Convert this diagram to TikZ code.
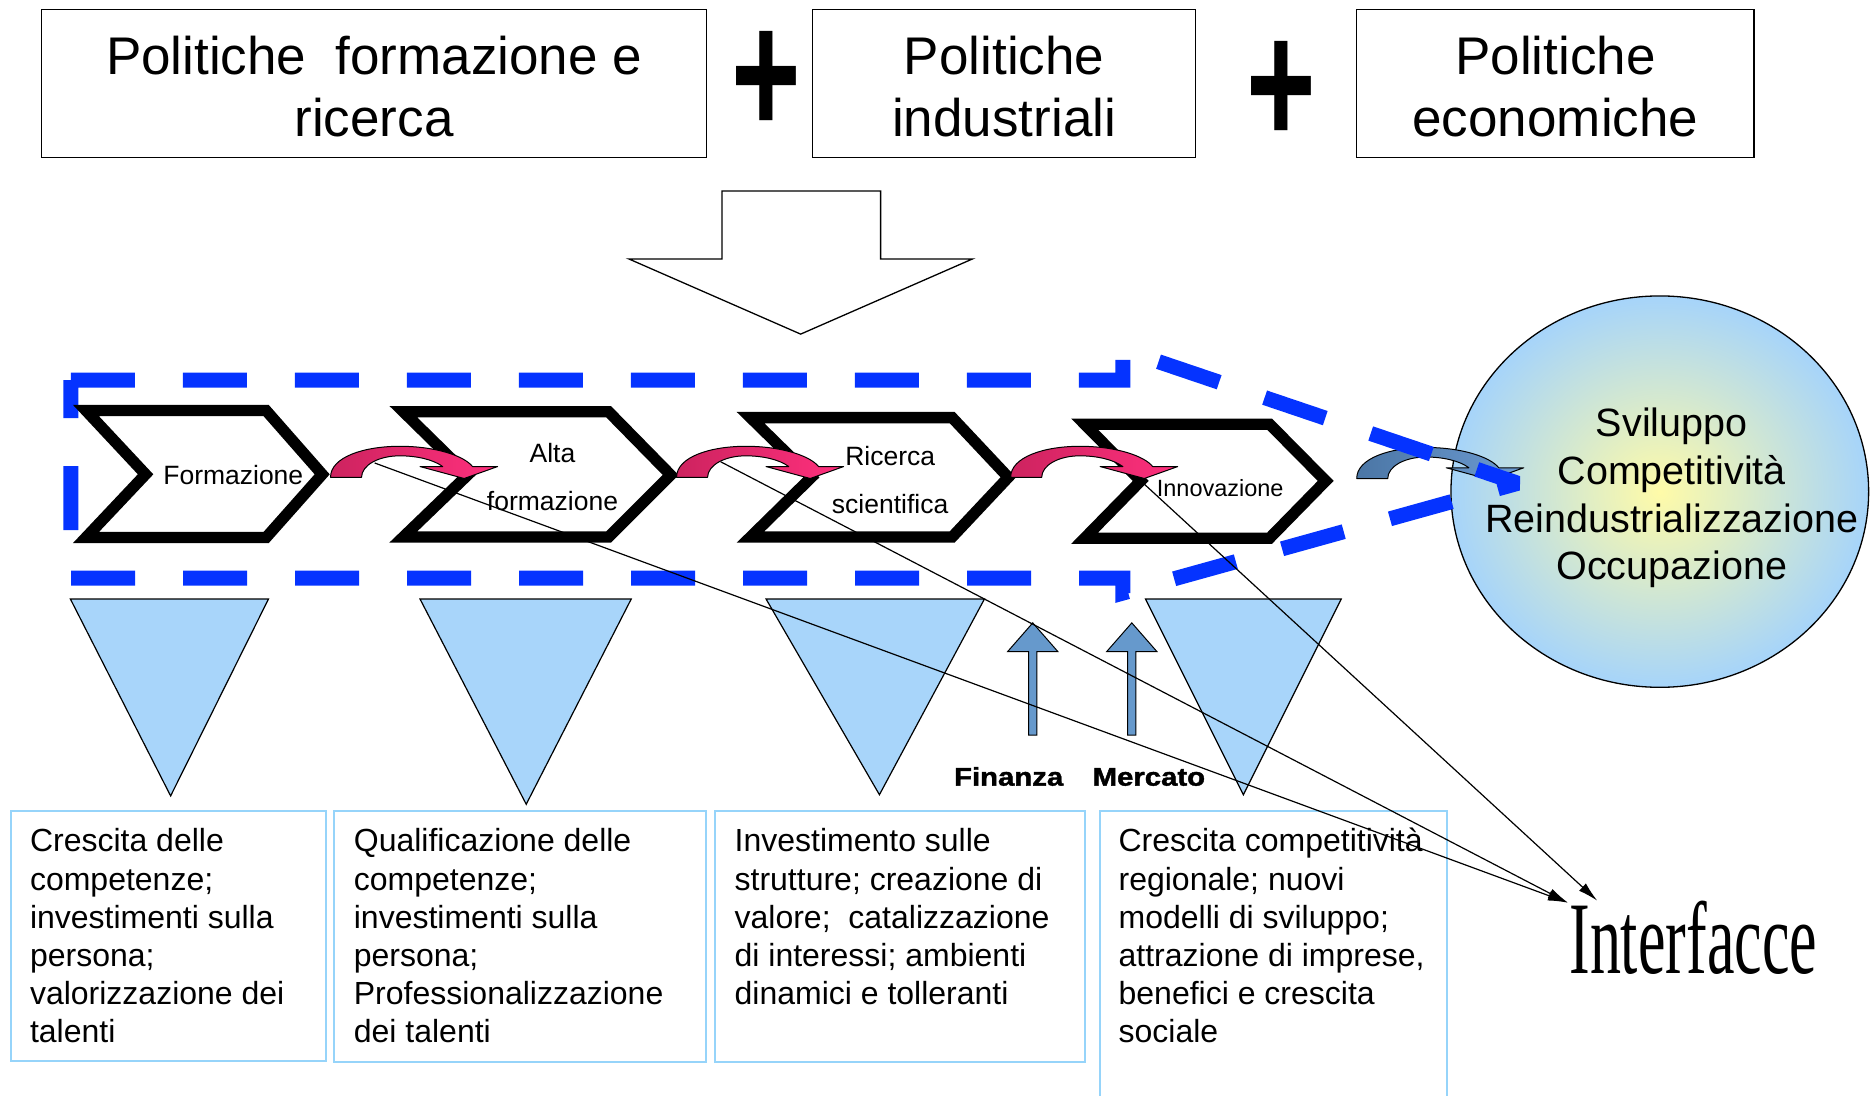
\documentclass[tikz,border=0pt]{standalone}
\usepackage{graphicx}
\usepackage{fontspec}
\setmainfont{Liberation Sans}
\newfontfamily\serifface{Liberation Serif}
\newfontfamily\heavyface{Liberation Sans}[BoldFeatures={FakeBold=1.5}]
\usetikzlibrary{arrows.meta,shapes.geometric,fit}

\definecolor{dashblue}{RGB}{5,51,255}
\definecolor{wedgeblue}{RGB}{168,213,250}
\definecolor{boxblue}{RGB}{150,212,250}
\definecolor{steelup}{RGB}{102,153,204}
\definecolor{pinkdark}{RGB}{205,35,95}
\definecolor{pinklight}{RGB}{255,48,125}
\definecolor{bluedark}{RGB}{75,118,165}
\definecolor{bluelight}{RGB}{108,155,210}
\definecolor{goalyellow}{RGB}{255,251,168}
\definecolor{goalblue}{RGB}{166,212,250}

% curved block arrow between two steps
\newcommand{\bendarrow}[3]{%
  \path[draw=black, line width=1pt, line join=round, left color=#2, right color=#3, shift={(#1)}]
    (0,0) .. controls (0,-17) and (28,-26) .. (58,-26)
    .. controls (88,-26) and (112,-18) .. (119,-9) -- (140,-9) -- (112,1)
    -- (75,-9) -- (94,-9) .. controls (86,-15) and (72,-18) .. (58,-18)
    .. controls (40,-18) and (26,-10) .. (26,0) -- cycle;}

\begin{document}
\begin{tikzpicture}[x=1.1933pt, y=-1.1933pt,
    topbox/.style={draw, line width=1.3pt, inner sep=0pt},
    toptext/.style={inner sep=0pt, align=center, anchor=base, font=\fontsize{53}{62}\selectfont},
    plus/.style={inner sep=4pt, font=\fontsize{157}{157}\selectfont\bfseries},
    chevron/.style={draw, fill=white, line width=11.3pt},
    steptext/.style={inner sep=0pt, align=center, anchor=base, font=\fontsize{26.5}{47.5}\selectfont},
    wedge/.style={draw, line width=1.2pt, fill=wedgeblue},
    infobox/.style={draw=boxblue, line width=2pt, inner sep=0pt},
    infotext/.style={inner sep=0pt, align=left, anchor=base west, font=\fontsize{32}{38.2}\selectfont},
    liftarrow/.style={draw, line width=1pt, fill=steelup},
    tag/.style={inner sep=0pt, anchor=base, font=\heavyface\fontsize{25.5}{30}\selectfont\bfseries},
    link/.style={line width=1.2pt, -{Latex[length=20pt,width=10pt]}}
  ]
  \fill[white] (0,0) rectangle (1568,918);
  \useasboundingbox (0,0) rectangle (1568,918);
  \clip (0,0) rectangle (1568,918);

  % policies
  \node[topbox, fit={(35,8) (592,132)}] (polform) {};
  \node[topbox, fit={(681,8) (1002,132)}] (polind) {};
  \node[topbox, fit={(1137,8) (1470,132)}] (poleco) {};
  \node[toptext] (polformtext) at (313.5,114) {Politiche~ formazione e\\ricerca};
  \node[toptext] (polindtext) at (841.5,114) {Politiche\\industriali};
  \node[toptext] (polecotext) at (1303.5,114) {Politiche\\economiche};
  \node[plus] (plusA) at (642.5,69.4) {\scalebox{0.76}[1.12]{+}};
  \node[plus] (plusB) at (1074,78) {\scalebox{0.76}[1.12]{+}};
  \draw[line width=1.3pt, fill=white] (605,160) -- (738,160) -- (738,217) -- (815,217)
    -- (671,280) -- (527,217) -- (605,217) -- cycle;

  % goal
  \node[draw, line width=1.3pt, ellipse, inner sep=0pt, minimum width=417.7pt, minimum height=391.4pt,
    inner color=goalyellow, outer color=goalblue] (goal) at (1391,412) {};
  \node[inner sep=0pt, align=center, anchor=base, font=\fontsize{39.5}{47.8}\selectfont] (goaltext)
    at (1401,486) {Sviluppo\\Competitività\\Reindustrializzazione\\Occupazione};
  \bendarrow{1137,401}{bluedark}{bluelight}

  % process frame
  \draw[dashblue, line width=15pt, miter limit=2, dash pattern=on 64pt off 48pt]
    (59.5,318.5) -- (941,318.5) -- (941,293) -- (1272,405) -- (941,497) -- (941,484.5)
    -- (59.5,484.5) -- cycle;

  % steps
  \draw[chevron] (72,344) -- (223,344) -- (270,397.5) -- (223,450.5) -- (72,450.5) -- (122,397.5) -- cycle;
  \draw[chevron] (338,345) -- (510,345) -- (562,398) -- (510,450) -- (338,450) -- (392,398) -- cycle;
  \draw[chevron] (629,350) -- (798,350) -- (845,400) -- (798,450) -- (629,450) -- (680,400) -- cycle;
  \draw[chevron] (909,355.5) -- (1064,355.5) -- (1111,403) -- (1064,451) -- (909,451) -- (956,403) -- cycle;
  \node[steptext] (formaz) at (195.5,406) {Formazione};
  \node[steptext] (altaform) at (463,427.4) {Alta\\formazione};
  \node[steptext] (ricerca) at (746,430) {Ricerca\\scientifica};
  \node[steptext, font=\fontsize{23.5}{28}\selectfont] (innov) at (1022.6,415.7) {Innovazione};
  \bendarrow{277,400}{pinkdark}{pinklight}
  \bendarrow{567,400}{pinkdark}{pinklight}
  \bendarrow{847,400}{pinkdark}{pinklight}

  % effects
  \foreach \l/\r/\tx/\ty in {59/225/143/667, 352/529/441/674, 642/825/737/666, 960/1124/1042/666}
    \draw[wedge] (\l,502) -- (\r,502) -- (\tx,\ty) -- cycle;
  \foreach \cx in {865.5,948.5}
    \draw[liftarrow] ({\cx-3.5},616) -- ({\cx-3.5},546) -- ({\cx-21},546) -- (\cx,522)
      -- ({\cx+21},546) -- ({\cx+3.5},546) -- ({\cx+3.5},616) -- cycle;
  \node[tag] (finanza) at (845.3,658.4) {\scalebox{1.15}[1]{Finanza}};
  \node[tag] (mercato) at (962.8,658.4) {\scalebox{1.15}[1]{Mercato}};

  \node[infobox, fit={(9,680) (273,889)}] (infoA) {};
  \node[infobox, fit={(280,680) (592,890)}] (infoB) {};
  \node[infobox, fit={(599,680) (909,890)}] (infoC) {};
  \node[infobox, fit={(922,680) (1213,940)}] (infoD) {};
  \node[infotext] (textA) at (25,874) {Crescita delle\\competenze;\\investimenti sulla\\persona;\\valorizzazione dei\\talenti};
  \node[infotext] (textB) at (296.4,874) {Qualificazione delle\\competenze;\\investimenti sulla\\persona;\\Professionalizzazione\\dei talenti};
  \node[infotext] (textC) at (615.5,842) {Investimento sulle\\strutture; creazione di\\valore;~ catalizzazione\\di interessi; ambienti\\dinamici e tolleranti};
  \node[infotext] (textD) at (937.3,874) {Crescita competitività\\regionale; nuovi\\modelli di sviluppo;\\attrazione di imprese,\\benefici e crescita\\sociale};

  % interfaces
  \node[inner sep=0pt, anchor=base, font=\serifface\fontsize{62}{62}\selectfont] (interf)
    at (1419,815.5) {\scalebox{1}[1.66]{Interfacce}};
  \coordinate (fromform) at (314,388);
  \coordinate (fromalta) at (604,387);
  \coordinate (frominno) at (956,403);
  \coordinate (toleft) at (1314,756.5);
  \coordinate (toright) at (1338.6,754.8);
  \draw[link] (fromform) -- (toleft);
  \draw[link] (fromalta) -- (toleft);
  \draw[link] (frominno) -- (toright);
\end{tikzpicture}
\end{document}
